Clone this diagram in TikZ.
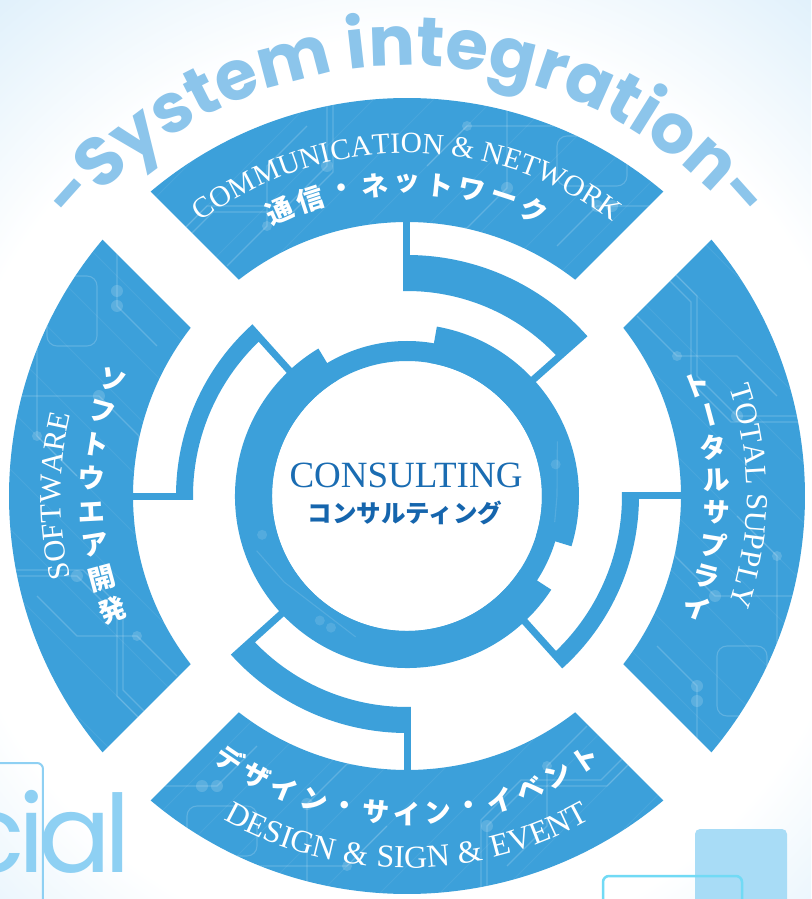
\documentclass[tikz,border=0pt]{standalone}
\usepackage{fontspec}
\usepackage{graphicx}
\setmainfont{Liberation Serif}
\newfontfamily\serifls{Liberation Serif}[LetterSpace=4]
\newfontfamily\jpfont{Noto Sans CJK JP}
\newfontfamily\popfont{Poppins}
\newfontfamily\popcial{Poppins}[LetterSpace=-6]
\usetikzlibrary{calc,decorations.text}
\definecolor{segblue}{HTML}{3CA0DA}
\definecolor{sysblue}{HTML}{8CC5EB}
\definecolor{bgblue}{HTML}{BCDEF5}
\definecolor{bgmid}{HTML}{D9EDFA}
\definecolor{deepblue}{HTML}{1A6CB2}
\definecolor{deepblueb}{HTML}{1565AD}
\definecolor{decoblue}{HTML}{8ED0F3}
\definecolor{decofill}{HTML}{A8DCF6}
\pgfdeclareradialshading{bgshade}{\pgfpoint{0bp}{0bp}}{color(0bp)=(white); color(22bp)=(white); color(33bp)=(bgmid); color(58bp)=(bgblue)}
\tikzset{
  jptext/.style={text=white, inner sep=0pt},
  trace/.style={white, opacity=0.18, line width=1.1pt},
  pad/.style={white, opacity=0.16},
}
\newcommand\segpath{(49.9:398) arc[start angle=49.9,end angle=130.1,radius=398] -- (127.87:274) arc[start angle=127.87,end angle=52.13,radius=274] -- cycle}
\newcommand\midarc[4]{%
  \begin{scope}[rotate=#1]
    \pgfmathsetmacro\ain{90+asin(4/#2)}%
    \pgfmathsetmacro\aout{90+asin(4/#3)}%
    \pgfmathsetmacro\ap{#4+asin(7/#2)}%
    \fill[segblue] (\ain:#2) -- (\aout:#3) arc[start angle=\aout, end angle=#4, radius=#3]
      -- (#4:160) -- ($(#4:160)+({#4+90}:7)$) -- (\ap:#2)
      arc[start angle=\ap, end angle=\ain, radius=#2] -- cycle;
    \fill[segblue] (-4,#2) rectangle (3,280);
  \end{scope}}
\newcommand\jparc[7]{%
  \foreach \ch [count=\i] in {#1} {%
    \pgfmathsetmacro\ang{#2+(\i-1)*(#3)}%
    \node[jptext, name=#7\i, rotate=\ang+#5, font=\jpfont\bfseries\fontsize{#6}{#6}\selectfont] at (\ang:#4) {\ch};
  }}
\begin{document}
\begin{tikzpicture}[x=1pt,y=1pt]
\useasboundingbox (-407,-403) rectangle (404,496);
\begin{scope}
  \clip (-407,-403) rectangle (404,496);
  \shade[shading=bgshade] (-520,-520) rectangle (520,520);
  % background decorations
  \draw[decoblue, line width=2, rounded corners=6] (-420,-267) -- (-364,-267) -- (-364,-420);
  \fill[decofill, rounded corners=5] (288,-333) rectangle (380,-430);
  \draw[decoblue!80!cyan, line width=2.5, rounded corners=6] (196,-430) -- (196,-380) -- (335,-380) -- (335,-430);
  \node[name=cial, font=\popcial\fontsize{108}{108}\selectfont, text=decoblue, anchor=base west, inner sep=0pt] at (-448,-376) {cial};
\end{scope}
% System integration
\path[decorate, decoration={text along path, text align=center,
  text={|\popfont\bfseries\fontsize{69}{69}\selectfont\color{sysblue}|-System integration-}}]
  (155:430) arc[start angle=155, end angle=25, radius=430];
% outer segments
\foreach \r in {0,90,180,270} {
  \draw[white, opacity=0.3, line width=24, line join=round, rotate=\r] \segpath;
  \draw[white, opacity=0.45, line width=10, line join=round, rotate=\r] \segpath;
  \fill[segblue, rotate=\r] \segpath;
  \begin{scope}[rotate=\r]
    \clip \segpath;
    \foreach \k in {-700,-640,...,400} {\draw[white, opacity=0.07, line width=0.8pt] (\k,150) -- (\k+300,450);}
    \draw[trace] (-250,240) -- (-200,290) -- (-120,290) -- (-80,330) -- (-80,400);
    \draw[trace] (-244,234) -- (-194,284) -- (-114,284) -- (-74,324) -- (-74,400);
    \draw[trace] (-60,228) -- (-20,268) -- (60,268) -- (100,308) -- (100,400);
    \draw[trace] (150,250) -- (190,290) -- (260,290);
    \draw[trace] (-180,230) -- (-140,270) -- (-140,330) -- (-100,370);
    \draw[trace] (20,330) -- (60,370) -- (150,370);
    \draw[trace, rounded corners=10] (150,310) rectangle (220,360);
    \fill[pad] (-80,330) circle[radius=6] (100,308) circle[radius=6] (-140,270) circle[radius=5]
      (190,290) circle[radius=6] (205,290) circle[radius=6] (-250,240) circle[radius=5] (60,370) circle[radius=5];
  \end{scope}
}
% middle arcs
\midarc{0}{205}{241}{41.5}
\midarc{90}{214}{231}{42}
\midarc{180}{211}{237}{42}
\midarc{270}{215}{232}{42}
% inner ring
\fill[segblue, even odd rule] (0,0) circle[radius=155] (0,0) circle[radius=135];
\fill[segblue] (121:135) -- (121:172) arc[start angle=121, end angle=327, radius=172] -- (327:135) arc[start angle=327, end angle=121, radius=135] -- cycle;
\fill[segblue] (-17:135) -- (-17:172) arc[start angle=-17, end angle=80, radius=172] -- (80:135) arc[start angle=80, end angle=-17, radius=135] -- cycle;
\begin{scope}
  \clip (0,0) circle[radius=172];
  \draw[trace, opacity=0.12] (200:160) -- (215:150) -- (250:150);
  \draw[trace, opacity=0.12] (20:160) -- (0:150) -- (-10:150);
  \fill[pad, opacity=0.12] (195:150) circle[radius=5] (235:152) circle[radius=5] (240:152) circle[radius=5] (12:152) circle[radius=5];
\end{scope}
% center texts
\node[name=cons, font=\fontsize{37}{37}\selectfont, text=deepblue, anchor=base, inner sep=0pt] at (-1,9) {CONSULTING};
\node[name=consjp, font=\jpfont\bfseries\fontsize{24.5}{24.5}\selectfont, text=deepblueb, inner sep=0pt] at (-2,-16.5) {コンサルティング};
% English arc texts
\path[decorate, decoration={text along path, text align=center,
  text={|\fontsize{29.5}{29.5}\selectfont\color{white}|COMMUNICATION {\&} NETWORK}}]
  (150:343) arc[start angle=150, end angle=30, radius=343];
\path[decorate, decoration={text along path, text align=center,
  text={|\serifls\fontsize{32}{32}\selectfont\color{white}|DESIGN {\&} SIGN {\&} EVENT}}]
  (235:372) arc[start angle=235, end angle=305, radius=372];
\path[decorate, decoration={text along path, text align=center,
  text={|\fontsize{30.5}{30.5}\selectfont\color{white}|SOFTWARE}}]
  (210:346) arc[start angle=210, end angle=150, radius=346];
\path[decorate, decoration={text along path, text align=center,
  text={|\fontsize{30.5}{30.5}\selectfont\color{white}|TOTAL SUPPLY}}]
  (30:340) arc[start angle=30, end angle=-30, radius=340];
% Japanese arc texts
\jparc{通,信,・,ネ,ッ,ト,ワ,ー,ク}{114}{-6}{312}{-90}{27}{top}
\jparc{デ,ザ,イ,ン,・,サ,イ,ン,・,イ,ベ,ン,ト}{236}{5.667}{318}{90}{27}{bot}
\jparc{ソ,フ,ト,ウ,エ,ア,開,発}{158.5}{6.1}{316}{-180}{27}{lft}
\jparc{ト,{\rotatebox[origin=c]{-90}{ー}},タ,ル,サ,プ,ラ,イ}{21}{-6}{310}{0}{27}{rgt}
\end{tikzpicture}
\end{document}
